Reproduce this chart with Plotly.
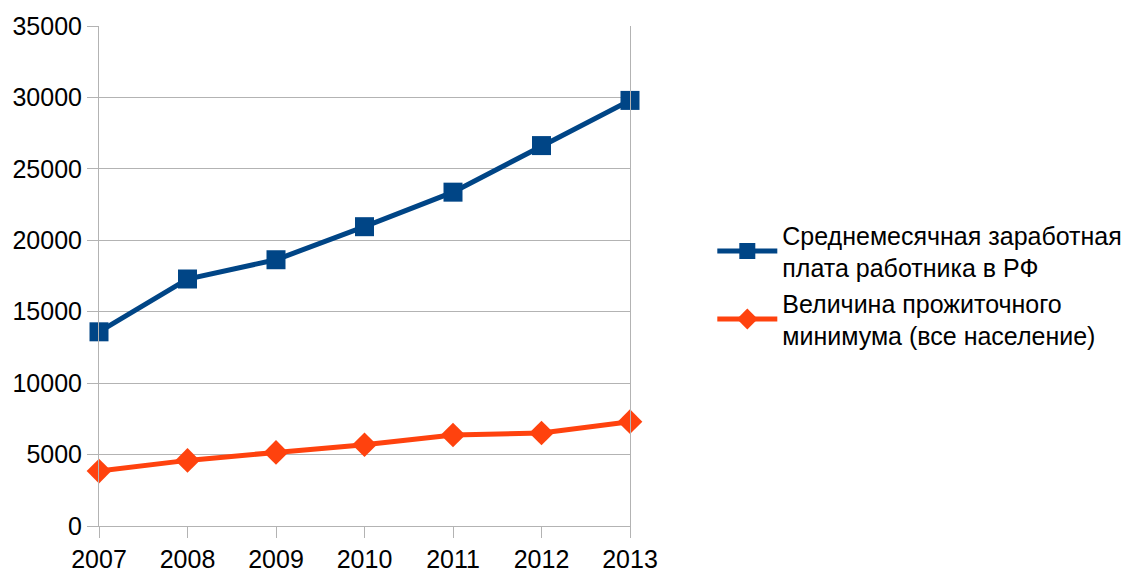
import plotly.graph_objects as go

years = [2007, 2008, 2009, 2010, 2011, 2012, 2013]
wage = [13593, 17290, 18638, 20952, 23369, 26629, 29792]
subsistence = [3847, 4593, 5153, 5688, 6369, 6510, 7306]
wage_name = "Среднемесячная заработная<br>плата работника в РФ"
subs_name = "Величина прожиточного<br>минимума (все население)"
y_ticks = [0, 5000, 10000, 15000, 20000, 25000, 30000, 35000]

fig = go.Figure()
fig.add_trace(go.Scatter(
    x=years, y=wage, name=wage_name, mode="lines+markers",
    line=dict(color="#004586", width=5),
    marker=dict(symbol="square", size=19, color="#004586"),
    cliponaxis=False,
))
fig.add_trace(go.Scatter(
    x=years, y=subsistence, name=subs_name, mode="lines+markers",
    line=dict(color="#ff420e", width=5),
    marker=dict(symbol="diamond", size=19, color="#ff420e"),
    cliponaxis=False,
))

axis_common = dict(
    showline=True, linecolor="#b3b3b3", linewidth=1,
    ticks="outside", ticklen=11, tickcolor="#b3b3b3",
    zeroline=False, automargin=False,
    tickfont=dict(family="Liberation Sans", size=25, color="#000000"),
)

# page body has an 8px default margin, so the figure is 8px smaller
fig.update_layout(
    width=1124, height=564,
    margin=dict(l=91, r=502, t=18, b=46, autoexpand=False),
    paper_bgcolor="white", plot_bgcolor="white",
    showlegend=True,
    legend=dict(
        x=1.155, y=0.628, xanchor="left", yanchor="top",
        font=dict(family="Liberation Sans", size=25, color="#000000"),
        tracegroupgap=4, itemwidth=60,
    ),
    xaxis=dict(range=[2007, 2013], tickvals=years, ticktext=[str(y) for y in years],
               showgrid=False, **axis_common),
    yaxis=dict(range=[0, 35000], tickvals=y_ticks, ticktext=[str(v) for v in y_ticks],
               showgrid=True, gridcolor="#b3b3b3", gridwidth=1, mirror=True, **axis_common),
)

fig.write_html("out.html")
